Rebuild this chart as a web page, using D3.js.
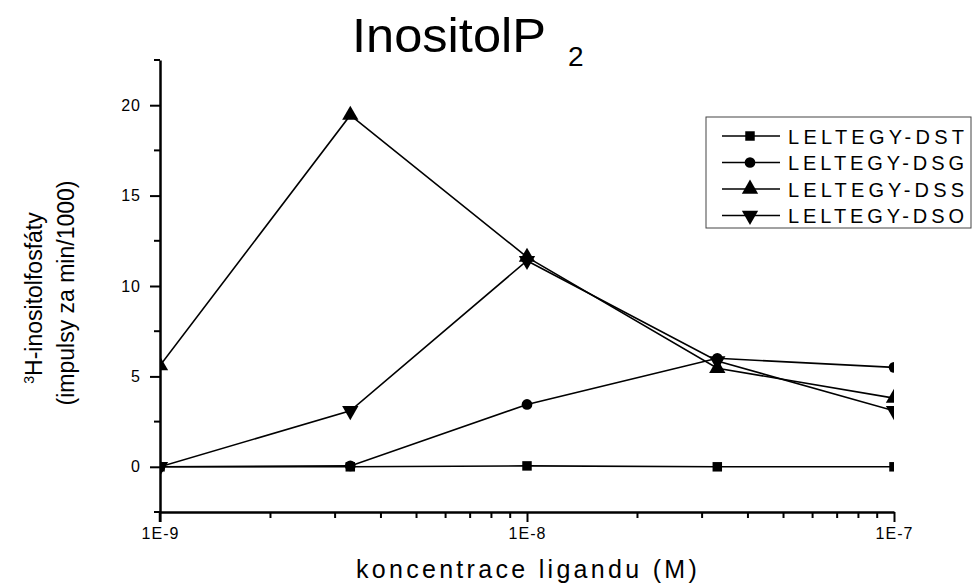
<!DOCTYPE html>
<html>
<head>
<meta charset="utf-8">
<script src="https://cdn.jsdelivr.net/npm/d3@7"></script>
<style>
  body { margin: 0; background: #fff; }
  svg { display: block; font-family: "Liberation Sans", Arial, sans-serif; }
</style>
</head>
<body>
<svg width="973" height="586"></svg>
<script>
// data
var concentrations = [1e-9, 3.3e-9, 1e-8, 3.3e-8, 1e-7];
var seriesNames = ["LELTEGY-DST", "LELTEGY-DSG", "LELTEGY-DSS", "LELTEGY-DSO"];
var valuesDST = [0, 0, 0.05, 0, 0];
var valuesDSG = [0, 0.05, 3.45, 6.0, 5.5];
var valuesDSS = [5.6, 19.45, 11.6, 5.45, 3.8];
var valuesDSO = [0, 3.1, 11.4, 5.85, 3.1];
var yMajorTicks = [0, 5, 10, 15, 20];
var xMajorTicks = [1e-9, 1e-8, 1e-7];
var xTickLabels = ["1E-9", "1E-8", "1E-7"];

var allValues = [valuesDST, valuesDSG, valuesDSS, valuesDSO];
var symbols = [d3.symbolSquare, d3.symbolCircle, d3.symbolTriangle, d3.symbolTriangle];
var symbolSize = [90, 90, 115, 115];

var svg = d3.select("svg");

// plot box (don't call it "top", that's window.top)
var pLeft = 160, pRight = 894, pTop = 60, pBottom = 512;

var x = d3.scaleLog().domain([1e-9, 1e-7]).range([pLeft, pRight]);
var y = d3.scaleLinear().domain([-2.5, 22.5]).range([pBottom, pTop]);

// clip so markers on the edges get cut like the original
svg.append("clipPath").attr("id", "plotClip")
  .append("rect")
  .attr("x", pLeft).attr("y", pTop - 10)
  .attr("width", pRight - pLeft).attr("height", pBottom - pTop + 10);

// x axis - major ticks
var xAxis = d3.axisBottom(x)
  .tickValues(xMajorTicks)
  .tickSize(10)
  .tickSizeOuter(0)
  .tickFormat(function(d, i) { return xTickLabels[i]; });

var gx = svg.append("g")
  .attr("transform", "translate(0," + pBottom + ")")
  .call(xAxis);

gx.selectAll("text")
  .attr("y", 16)
  .attr("dy", "0.71em")
  .style("font-size", "16px")
  .style("letter-spacing", "1px");

// x minor ticks
var xMinor = x.ticks().filter(function(d) { return xMajorTicks.indexOf(d) < 0; });
gx.selectAll(".minor")
  .data(xMinor)
  .enter().append("line")
  .attr("class", "minor")
  .attr("x1", function(d) { return x(d); })
  .attr("x2", function(d) { return x(d); })
  .attr("y1", 0).attr("y2", 6)
  .attr("stroke", "#000").attr("stroke-width", 2);

// y axis
var yAxis = d3.axisLeft(y)
  .tickValues(yMajorTicks)
  .tickSize(10)
  .tickSizeOuter(0)
  .tickFormat(d3.format("d"));

var gy = svg.append("g")
  .attr("transform", "translate(" + pLeft + ",0)")
  .call(yAxis);

gy.selectAll("text")
  .attr("x", -19)
  .style("font-size", "16px")
  .style("letter-spacing", "1px");

var yMinor = d3.range(-2.5, 23, 5);
gy.selectAll(".minor")
  .data(yMinor)
  .enter().append("line")
  .attr("class", "minor")
  .attr("x1", 0).attr("x2", -6)
  .attr("y1", function(d) { return y(d); })
  .attr("y2", function(d) { return y(d); })
  .attr("stroke", "#000").attr("stroke-width", 2);

// y axis line goes a bit below the x axis in the original
gy.append("line")
  .attr("x1", 0).attr("x2", 0)
  .attr("y1", pBottom).attr("y2", pBottom + 10)
  .attr("stroke", "#000").attr("stroke-width", 2.5);

svg.selectAll(".domain").attr("stroke", "#000").attr("stroke-width", 2.5);
svg.selectAll(".tick line").attr("stroke", "#000").attr("stroke-width", 2);

// series
var plot = svg.append("g").attr("clip-path", "url(#plotClip)");

var line = d3.line()
  .x(function(d, i) { return x(concentrations[i]); })
  .y(function(d) { return y(d); });

allValues.forEach(function(vals, s) {
  plot.append("path")
    .datum(vals)
    .attr("d", line)
    .attr("fill", "none")
    .attr("stroke", "#000")
    .attr("stroke-width", 1.6);

  plot.selectAll(".pt" + s)
    .data(vals)
    .enter().append("path")
    .attr("class", "pt" + s)
    .attr("d", d3.symbol().type(symbols[s]).size(symbolSize[s]))
    .attr("transform", function(d, i) {
      return "translate(" + x(concentrations[i]) + "," + y(d) + ")" + (s == 3 ? " rotate(180)" : "");
    })
    .attr("fill", "#000");
});

// legend
var legend = svg.append("g");
legend.append("rect")
  .attr("x", 706).attr("y", 117)
  .attr("width", 265).attr("height", 111)
  .attr("fill", "#fff")
  .attr("stroke", "#444").attr("stroke-width", 1);

seriesNames.forEach(function(name, s) {
  var ly = 136 + s * 26.5;
  legend.append("line")
    .attr("x1", 722).attr("x2", 780)
    .attr("y1", ly).attr("y2", ly)
    .attr("stroke", "#000").attr("stroke-width", 1.6);
  legend.append("path")
    .attr("d", d3.symbol().type(symbols[s]).size(symbolSize[s])())
    .attr("transform", "translate(750," + ly + ")" + (s == 3 ? " rotate(180)" : ""))
    .attr("fill", "#000");
  legend.append("text")
    .attr("x", 788).attr("y", ly + 7.5)
    .attr("textLength", 176)
    .attr("lengthAdjust", "spacing")
    .style("font-size", "20px")
    .text(name);
});

// title
svg.append("text")
  .attr("x", 352).attr("y", 52)
  .style("font-size", "48px")
  .attr("textLength", 194)
  .attr("lengthAdjust", "spacingAndGlyphs")
  .text("InositolP");
svg.append("text")
  .attr("x", 568).attr("y", 66)
  .style("font-size", "28px")
  .text("2");

// x label
svg.append("text")
  .attr("x", 528).attr("y", 578)
  .attr("text-anchor", "middle")
  .style("font-size", "25px")
  .style("letter-spacing", "3.3px")
  .text("koncentrace ligandu (M)");

// y label, two lines
var yl = svg.append("text")
  .attr("transform", "translate(42,298) rotate(-90)")
  .attr("text-anchor", "middle")
  .style("font-size", "23px");
yl.append("tspan").attr("baseline-shift", "super").style("font-size", "14px").text("3");
yl.append("tspan").text("H-inositolfosfáty");

svg.append("text")
  .attr("transform", "translate(74,293) rotate(-90)")
  .attr("text-anchor", "middle")
  .style("font-size", "23px")
  .text("(impulsy za min/1000)");
</script>
</body>
</html>
